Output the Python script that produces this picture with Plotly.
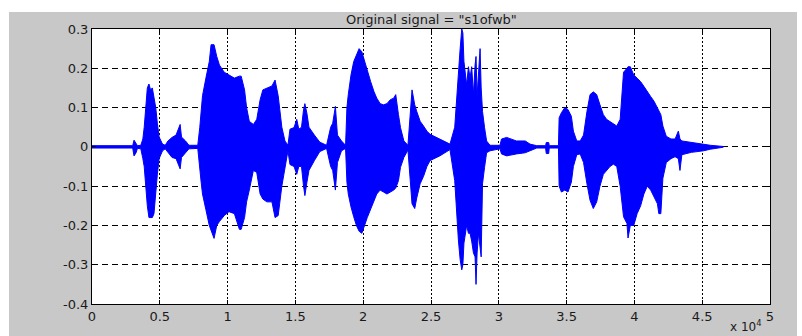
import plotly.graph_objects as go

# Envelope of the speech waveform (sample index, upper, lower)
sample_idx = [
    0, 3000, 3100, 3250, 3350, 3600, 3750, 3850, 3950, 4080, 4200, 4320, 4450, 4570, 4700, 4820, 4950,
    5200, 5400, 5600, 5900, 6200, 6500, 6600, 6900, 7150, 7800, 7950, 8050, 8150, 8400, 8650, 8780,
    9000, 9200, 9400, 9750, 10100, 10500, 10870, 11000, 11250, 11400, 11600, 11900, 12150, 12400,
    12600, 12900, 13270, 13500, 13730, 14000, 14230, 14450, 14600, 14900, 15100, 15250, 15450, 15600,
    15700, 15850, 16000, 16400, 16800, 17300, 17600, 17750, 17950, 18100, 18400, 18700, 18800, 18900,
    19100, 19300, 19500, 19700, 19900, 20100, 20300, 20550, 20800, 21000, 21250, 21500, 21750, 22000,
    22250, 22400, 22600, 22750, 23000, 23300, 23600, 23800, 23950, 24200, 24450, 24700, 24930, 25650,
    26400, 26750, 26900, 27020, 27150, 27270, 27350, 27430, 27630, 27760, 27880, 28000, 28130, 28250,
    28320, 28400, 28500, 28620, 28700, 28800, 28950, 29100, 29350, 30090, 30200, 30580, 31300, 31950,
    32300, 32800, 33450, 33500, 33680, 33720, 34400, 34450, 34620, 34870, 35100, 35350, 35500, 35750,
    36000, 36250, 36500, 36730, 36970, 37220, 37460, 37710, 37950, 38200, 38450, 38700, 38950, 39200,
    39450, 39530, 39700, 39950, 40200, 40460, 40700, 40950, 41200, 41450, 41700, 41800, 41950, 42100,
    42350, 42700, 43000, 43240, 43360, 43500, 44200, 45100, 45600, 46550,
]
upper_env = [
    0.003, 0.003, 0.017, 0.010, 0.003, 0.004, 0.020, 0.050, 0.090, 0.150, 0.160, 0.145, 0.150, 0.130, 0.100, 0.060, 0.025,
    0.007, 0.004, 0.015, 0.024, 0.030, 0.057, 0.025, 0.015, 0.004, 0.004, 0.050, 0.100, 0.130, 0.175, 0.217, 0.260,
    0.260, 0.230, 0.208, 0.190, 0.183, 0.175, 0.180, 0.180, 0.145, 0.100, 0.065, 0.057, 0.070, 0.120,
    0.145, 0.150, 0.155, 0.170, 0.130, 0.050, 0.015, 0.004, 0.045, 0.049, 0.070, 0.045, 0.050, 0.094,
    0.110, 0.085, 0.050, 0.030, 0.012, 0.004, 0.050, 0.060, 0.103, 0.030, 0.015, 0.004, 0.100, 0.133,
    0.183, 0.217, 0.234, 0.250, 0.242, 0.217, 0.190, 0.166, 0.140, 0.124, 0.110, 0.107, 0.110, 0.120,
    0.124, 0.133, 0.082, 0.049, 0.015, 0.004, 0.145, 0.107, 0.090, 0.065, 0.053, 0.040, 0.032, 0.020,
    0.007, 0.050, 0.133, 0.208, 0.250, 0.300, 0.290, 0.217, 0.158, 0.204, 0.175, 0.204, 0.133, 0.208,
    0.230, 0.130, 0.175, 0.250, 0.150, 0.090, 0.049, 0.015, 0.004, 0.004, 0.020, 0.024, 0.015, 0.015,
    0.007, 0.003, 0.003, 0.011, 0.011, 0.003, 0.003, 0.074, 0.087, 0.100, 0.095, 0.078, 0.040, 0.015,
    0.015, 0.030, 0.090, 0.133, 0.140, 0.133, 0.107, 0.082, 0.070, 0.065, 0.060, 0.053, 0.070, 0.190,
    0.200, 0.204, 0.204, 0.183, 0.175, 0.166, 0.154, 0.140, 0.128, 0.116, 0.100, 0.090, 0.082, 0.053,
    0.027, 0.020, 0.020, 0.040, 0.020, 0.015, 0.011, 0.007, 0.004, 0.001,
]
lower_env = [
    -0.003, -0.003, -0.023, -0.015, -0.004, -0.005, -0.030, -0.050, -0.090, -0.150, -0.180, -0.180, -0.180, -0.170, -0.120, -0.070, -0.030,
    -0.010, -0.005, -0.015, -0.027, -0.030, -0.056, -0.027, -0.015, -0.005, -0.004, -0.050, -0.090, -0.120, -0.160, -0.200, -0.210,
    -0.233, -0.200, -0.190, -0.175, -0.165, -0.170, -0.210, -0.210, -0.180, -0.140, -0.110, -0.060, -0.065, -0.120,
    -0.133, -0.140, -0.140, -0.180, -0.175, -0.100, -0.050, -0.010, -0.045, -0.050, -0.070, -0.050, -0.050, -0.100,
    -0.124, -0.090, -0.060, -0.035, -0.012, -0.004, -0.050, -0.060, -0.110, -0.040, -0.010, -0.004, -0.090, -0.120,
    -0.153, -0.178, -0.200, -0.215, -0.220, -0.200, -0.180, -0.157, -0.136, -0.120, -0.110, -0.115, -0.120, -0.115,
    -0.110, -0.105, -0.086, -0.052, -0.027, -0.008, -0.145, -0.157, -0.130, -0.094, -0.075, -0.050, -0.035, -0.023,
    -0.007, -0.086, -0.170, -0.237, -0.287, -0.313, -0.300, -0.245, -0.200, -0.220, -0.220, -0.240, -0.270, -0.280,
    -0.350, -0.270, -0.220, -0.260, -0.280, -0.094, -0.052, -0.015, -0.010, -0.005, -0.018, -0.023, -0.018, -0.015,
    -0.010, -0.003, -0.003, -0.017, -0.017, -0.003, -0.003, -0.100, -0.115, -0.110, -0.115, -0.090, -0.050, -0.020,
    -0.018, -0.040, -0.094, -0.136, -0.157, -0.140, -0.100, -0.070, -0.060, -0.050, -0.044, -0.050, -0.100, -0.178,
    -0.195, -0.232, -0.200, -0.200, -0.170, -0.150, -0.120, -0.100, -0.110, -0.128, -0.145, -0.170, -0.170, -0.080,
    -0.040, -0.030, -0.025, -0.030, -0.060, -0.020, -0.014, -0.010, -0.006, -0.001,
]

x_tick_vals = [0, 5000, 10000, 15000, 20000, 25000, 30000, 35000, 40000, 45000, 50000]
x_tick_text = ["0", "0.5", "1", "1.5", "2", "2.5", "3", "3.5", "4", "4.5", "5"]
y_tick_vals = [-0.4, -0.3, -0.2, -0.1, 0, 0.1, 0.2, 0.3]
y_tick_text = ["-0.4", "-0.3", "-0.2", "-0.1", "0", "0.1", "0.2", "0.3"]
title_text = 'Original signal = "s1ofwb"'

BLUE = "#0000ff"
FONT = dict(family="DejaVu Sans", size=13, color="#1a1a1a")

fig = go.Figure()
fig.add_trace(go.Scatter(
    x=sample_idx + sample_idx[::-1],
    y=upper_env + lower_env[::-1],
    mode="lines",
    fill="toself",
    fillcolor=BLUE,
    line=dict(color=BLUE, width=1),
    hoverinfo="skip",
    showlegend=False,
))

fig.update_layout(
    width=802, height=336,
    margin=dict(l=92, r=32, t=29, b=32),
    paper_bgcolor="white",
    plot_bgcolor="white",
    font=FONT,
    showlegend=False,
    shapes=[
        dict(type="rect", xref="paper", yref="paper", x0=-0.1224, x1=1.0398, y0=-0.2, y1=1.0618,
             fillcolor="#c8c8c8", line=dict(width=0), layer="below"),
        dict(type="rect", xref="x domain", yref="y domain", x0=0, x1=1, y0=0, y1=1,
             fillcolor="white", line=dict(width=0), layer="below"),
    ],
    annotations=[
        dict(text=title_text, xref="paper", yref="paper", x=0.5, y=1.0, yshift=10,
             xanchor="center", yanchor="middle", showarrow=False, font=FONT),
        dict(text="x 10<sup>4</sup>", xref="paper", yref="paper", x=1.0, xshift=-6,
             y=-0.1164, xanchor="right", yanchor="bottom", showarrow=False,
             font=dict(family="DejaVu Sans", size=12, color="#1a1a1a")),
    ],
)

fig.update_xaxes(
    range=[0, 50000],
    tickmode="array", tickvals=x_tick_vals, ticktext=x_tick_text,
    showgrid=True, gridcolor="black", gridwidth=1, griddash="2px,2px",
    zeroline=False,
    showline=True, linecolor="black", linewidth=1, mirror="ticks",
    ticks="inside", ticklen=4, tickcolor="black",
    tickfont=FONT,
)
fig.update_yaxes(
    range=[-0.4, 0.3],
    tickmode="array", tickvals=y_tick_vals, ticktext=y_tick_text,
    showgrid=True, gridcolor="black", gridwidth=1, griddash="6px,4px",
    zeroline=False,
    showline=True, linecolor="black", linewidth=1, mirror="ticks",
    ticks="inside", ticklen=4, tickcolor="black",
    tickfont=FONT,
)

fig.write_html(
    "out.html",
    config={"displayModeBar": False},
    post_script="document.body.style.margin='0';document.body.style.overflow='hidden';",
)
